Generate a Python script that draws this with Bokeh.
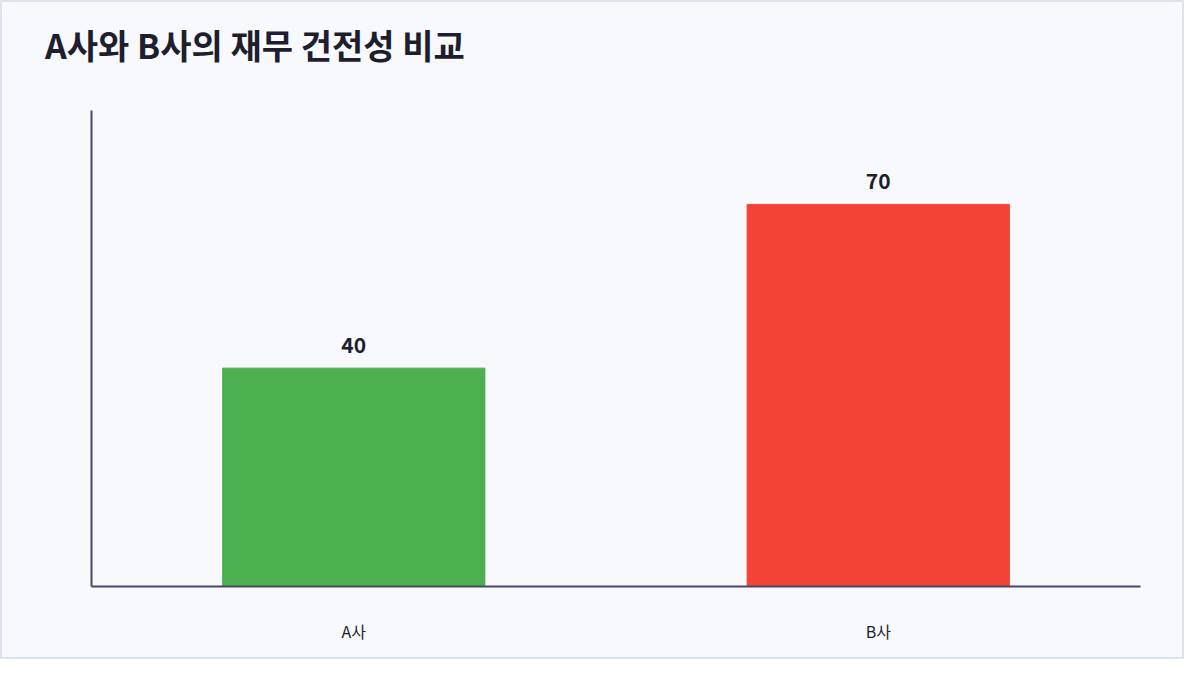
from bokeh.plotting import figure
from bokeh.models import ColumnDataSource, Range1d, Div
from bokeh.layouts import column
from bokeh.core.properties import value
from bokeh.embed import file_html
from bokeh.resources import INLINE

# data
companies = ["A사", "B사"]
scores = [40, 70]
bar_colors = ["#4caf50", "#f44336"]
title_text = "A사와 B사의 재무 건전성 비교"

FONT = "Noto Sans CJK KR"
BG = "#f7f9fd"
INK = "#1e1e2e"
AXIS = "#4a4668"

source = ColumnDataSource(dict(
    company=companies,
    score=scores,
    color=bar_colors,
    label=[str(s) for s in scores],
))

# title as a Div so it can sit well above the frame
header = Div(
    text=(f'<div style="padding-left:43px; line-height:86px; font-size:34px; '
          f'font-weight:bold; font-family:\'{FONT}\'; color:{INK}; white-space:nowrap">'
          f'{title_text}</div>'),
    width=1180, height=86, margin=0,
    styles={"background-color": BG},
)

p = figure(
    x_range=companies, y_range=Range1d(0, 87.2),
    width=1180, height=569, margin=0,
    output_backend="svg", toolbar_location=None, tools="",
    background_fill_color=BG, border_fill_color=BG,
    min_border_left=89, min_border_right=42,
    min_border_top=22, min_border_bottom=71,
)

p.vbar(x="company", top="score", width=0.5, color="color", source=source)
p.text(x="company", y="score", text="label", source=source,
       text_align="center", text_baseline="bottom", y_offset=-15,
       text_font=value(FONT), text_font_size="21px", text_font_style="bold",
       text_color=INK)

p.xgrid.grid_line_color = None
p.ygrid.grid_line_color = None
p.outline_line_color = None
p.x_range.range_padding = 0

for ax in (p.xaxis, p.yaxis):
    ax.axis_line_color = AXIS
    ax.axis_line_width = 2
    ax.major_tick_line_color = None
    ax.minor_tick_line_color = None

p.yaxis.ticker = []
p.xaxis.major_label_text_font = FONT
p.xaxis.major_label_text_font_size = "16px"
p.xaxis.major_label_text_color = INK
p.xaxis.major_label_standoff = 26

page = column(header, p, spacing=0,
              styles={"border": "2px solid #dde4ee", "background-color": BG})

open("out.html", "w").write(file_html(page, INLINE))
